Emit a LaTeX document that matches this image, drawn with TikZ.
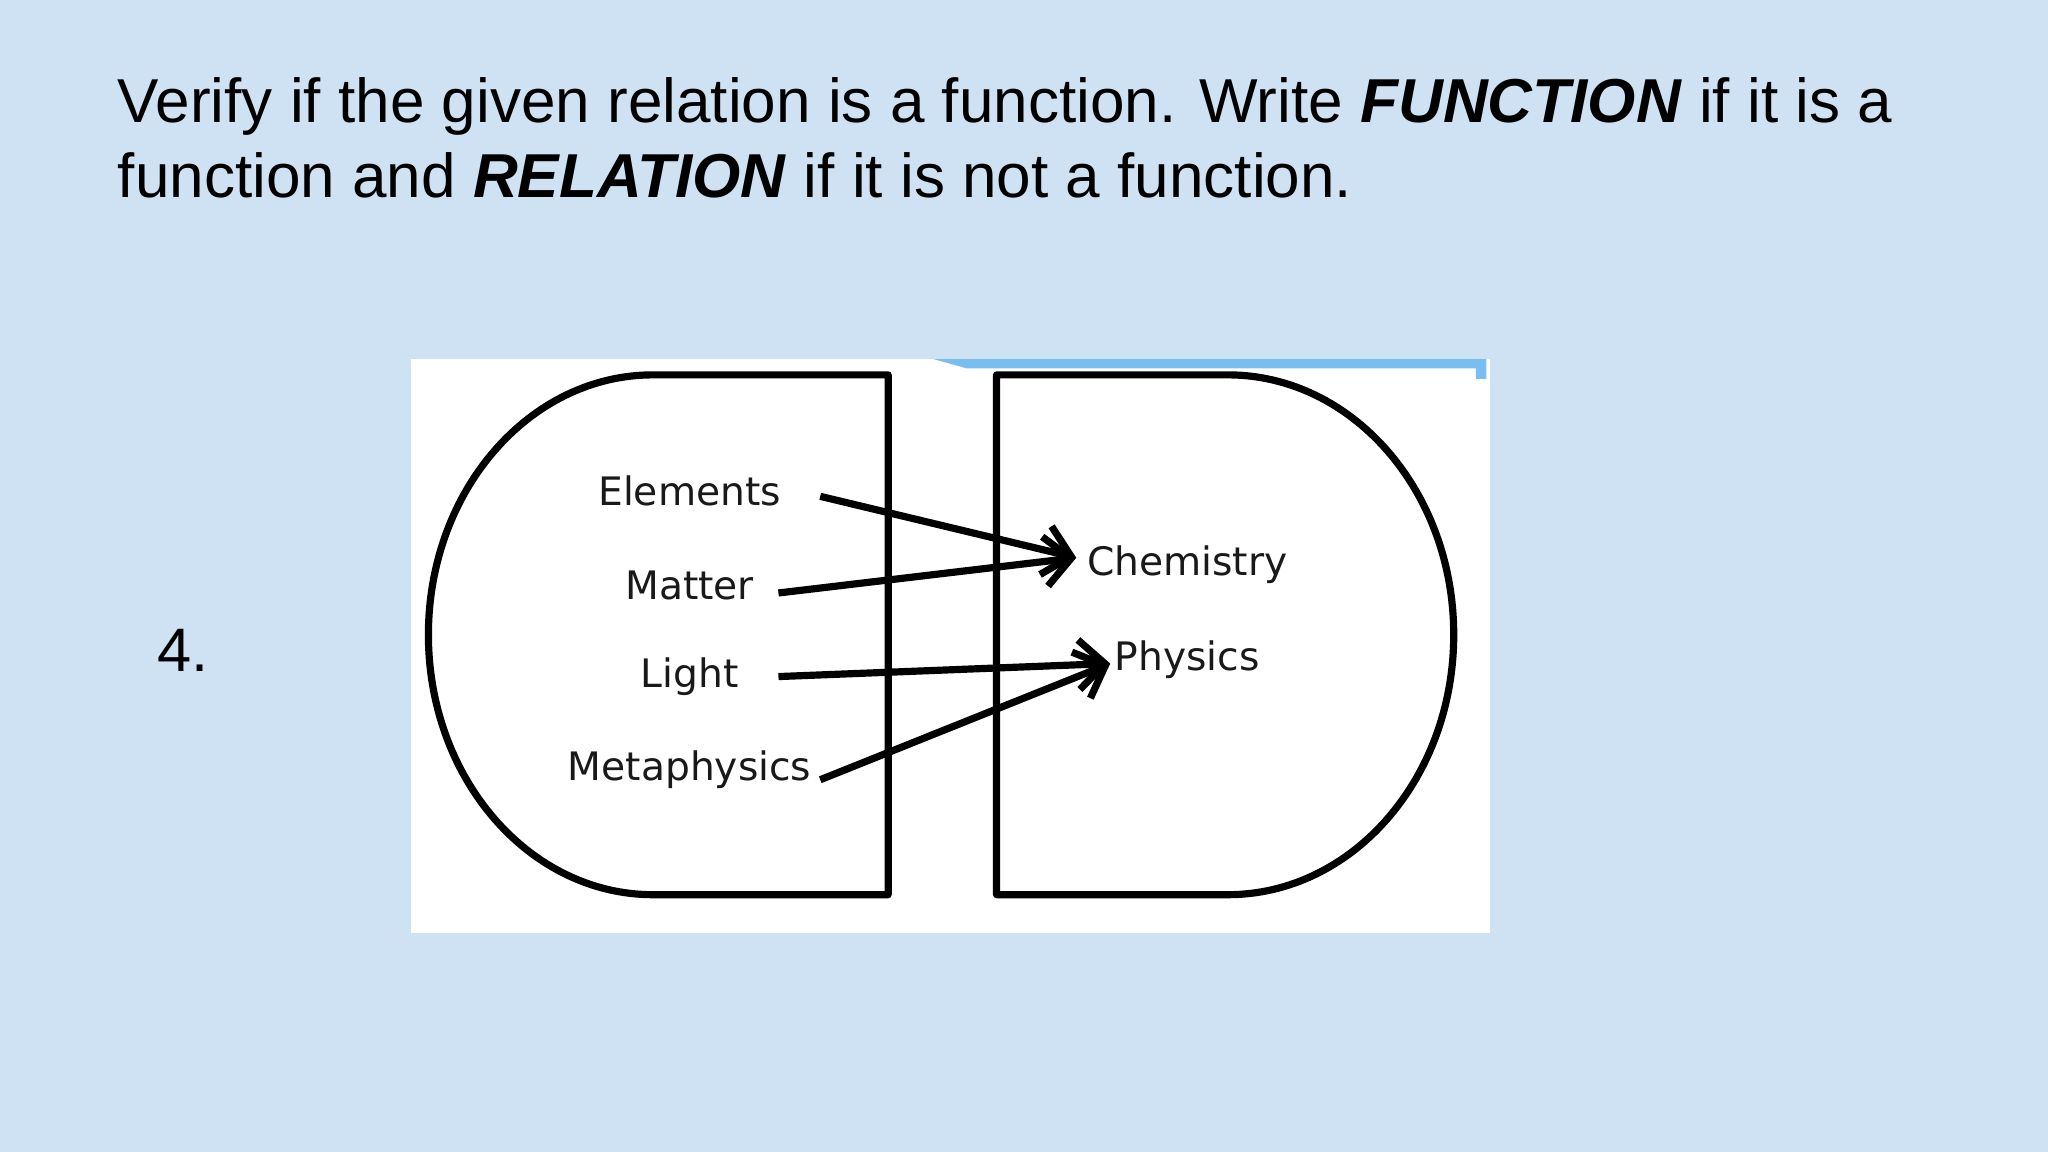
\documentclass[tikz,border=0pt]{standalone}
\usepackage{fontspec}
\setmainfont{Liberation Sans}
\newfontfamily\lblfont{DejaVu Sans}
\usetikzlibrary{arrows.meta}
\definecolor{bg}{RGB}{207,226,243}
\definecolor{stripe}{RGB}{120,190,240}
\definecolor{ink}{RGB}{25,25,25}
\begin{document}
\begin{tikzpicture}[x=1pt,y=-1pt,
  lbl/.style={font=\lblfont\fontsize{30}{34}\selectfont,text=ink,inner sep=1pt},
  arr/.style={line width=5.5pt,-{Straight Barb[length=20pt,width=38pt,line width=5.5pt]}},
  shp/.style={line width=5.5pt,line join=round}]
\useasboundingbox (0,0) rectangle (1568,882);
\fill[bg] (0,0) rectangle (1568,882);
\node[anchor=base west,inner sep=0,align=left,font=\fontsize{47.5}{57}\selectfont] (title) at (90,151)
 {Verify if the given relation is a function. Write \textbf{\textit{FUNCTION}} if it is a\\function and \textbf{\textit{RELATION}} if it is not a function.};
\node[font=\fontsize{47}{54}\selectfont,inner sep=0] (num) at (140,498) {4.};
\fill[white] (315,275) rectangle (1141,714);
\fill[stripe] (715,275) -- (1138,275) -- (1138,290) -- (1130,290) -- (1130,282) -- (740,282) -- cycle;
\draw[shp] (680,287) -- (500,287) arc[start angle=-90,end angle=-270,x radius=172,y radius=199] -- (680,685) -- cycle;
\draw[shp] (763,287) -- (940,287) arc[start angle=-90,end angle=90,x radius=173,y radius=199] -- (763,685) -- cycle;
\node[lbl] (el) at (528,376) {Elements};
\node[lbl] (ma) at (528,448) {Matter};
\node[lbl] (li) at (528,518) {Light};
\node[lbl] (me) at (528,589) {Metaphysics};
\node[lbl] (ch) at (909,432) {Chemistry};
\node[lbl] (ph) at (909,505) {Physics};
\coordinate (elE) at (628,380);
\coordinate (maE) at (596,454);
\coordinate (liE) at (596,518);
\coordinate (meE) at (628,597);
\coordinate (chW) at (824,427);
\coordinate (phW) at (850,508);
\draw[arr] (elE) -- (chW);
\draw[arr] (maE) -- (chW);
\draw[arr] (liE) -- (phW);
\draw[arr] (meE) -- (phW);
\end{tikzpicture}
\end{document}
